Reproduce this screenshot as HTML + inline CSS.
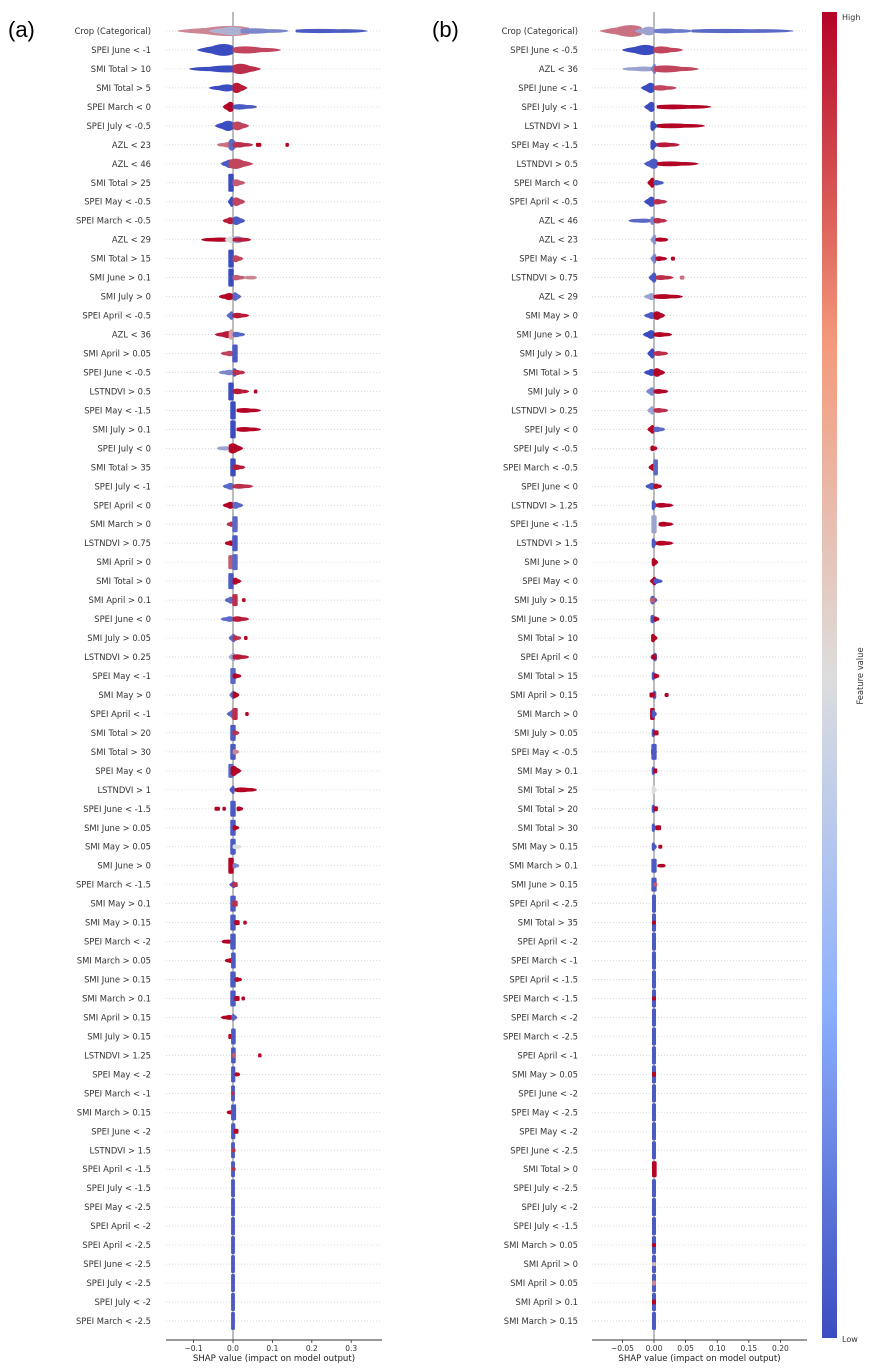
<!DOCTYPE html>
<html><head><meta charset="utf-8">
<style>
html,body{margin:0;padding:0;background:#fff;}
svg{display:block;font-family:"DejaVu Sans","Liberation Sans",sans-serif;}
</style></head>
<body>
<svg id="chart" width="873" height="1372" viewBox="0 0 873 1372" xmlns="http://www.w3.org/2000/svg">
<defs>
<linearGradient id="cw" x1="0" y1="1" x2="0" y2="0">
<stop offset="0" stop-color="#3b4cc0"/><stop offset="0.25" stop-color="#8db0fe"/>
<stop offset="0.5" stop-color="#dddddd"/><stop offset="0.75" stop-color="#f49a7b"/>
<stop offset="1" stop-color="#b40426"/></linearGradient>
</defs>
<text x="8" y="37" font-size="22" font-family="Liberation Sans, sans-serif">(a)</text>
<text x="432" y="37" font-size="22" font-family="Liberation Sans, sans-serif">(b)</text>
<g id="pa"></g>
<g id="pb"></g>
<rect x="822" y="12" width="15" height="1326" fill="url(#cw)"/>
<text x="842" y="20" font-size="8" fill="#333">High</text>
<text x="842" y="1342" font-size="8" fill="#333">Low</text>
<text x="0" y="0" font-size="8.4" fill="#333" text-anchor="middle" transform="translate(863,676) rotate(-90)">Feature value</text>
</svg>
<script>
const labelsA = ["Crop (Categorical)","SPEI June < -1","SMI Total > 10","SMI Total > 5","SPEI March < 0","SPEI July < -0.5","AZL < 23","AZL < 46","SMI Total > 25","SPEI May < -0.5","SPEI March < -0.5","AZL < 29","SMI Total > 15","SMI June > 0.1","SMI July > 0","SPEI April < -0.5","AZL < 36","SMI April > 0.05","SPEI June < -0.5","LSTNDVI > 0.5","SPEI May < -1.5","SMI July > 0.1","SPEI July < 0","SMI Total > 35","SPEI July < -1","SPEI April < 0","SMI March > 0","LSTNDVI > 0.75","SMI April > 0","SMI Total > 0","SMI April > 0.1","SPEI June < 0","SMI July > 0.05","LSTNDVI > 0.25","SPEI May < -1","SMI May > 0","SPEI April < -1","SMI Total > 20","SMI Total > 30","SPEI May < 0","LSTNDVI > 1","SPEI June < -1.5","SMI June > 0.05","SMI May > 0.05","SMI June > 0","SPEI March < -1.5","SMI May > 0.1","SMI May > 0.15","SPEI March < -2","SMI March > 0.05","SMI June > 0.15","SMI March > 0.1","SMI April > 0.15","SMI July > 0.15","LSTNDVI > 1.25","SPEI May < -2","SPEI March < -1","SMI March > 0.15","SPEI June < -2","LSTNDVI > 1.5","SPEI April < -1.5","SPEI July < -1.5","SPEI May < -2.5","SPEI April < -2","SPEI April < -2.5","SPEI June < -2.5","SPEI July < -2.5","SPEI July < -2","SPEI March < -2.5"];
const labelsB = ["Crop (Categorical)","SPEI June < -0.5","AZL < 36","SPEI June < -1","SPEI July < -1","LSTNDVI > 1","SPEI May < -1.5","LSTNDVI > 0.5","SPEI March < 0","SPEI April < -0.5","AZL < 46","AZL < 23","SPEI May < -1","LSTNDVI > 0.75","AZL < 29","SMI May > 0","SMI June > 0.1","SMI July > 0.1","SMI Total > 5","SMI July > 0","LSTNDVI > 0.25","SPEI July < 0","SPEI July < -0.5","SPEI March < -0.5","SPEI June < 0","LSTNDVI > 1.25","SPEI June < -1.5","LSTNDVI > 1.5","SMI June > 0","SPEI May < 0","SMI July > 0.15","SMI June > 0.05","SMI Total > 10","SPEI April < 0","SMI Total > 15","SMI April > 0.15","SMI March > 0","SMI July > 0.05","SPEI May < -0.5","SMI May > 0.1","SMI Total > 25","SMI Total > 20","SMI Total > 30","SMI May > 0.15","SMI March > 0.1","SMI June > 0.15","SPEI April < -2.5","SMI Total > 35","SPEI April < -2","SPEI March < -1","SPEI April < -1.5","SPEI March < -1.5","SPEI March < -2","SPEI March < -2.5","SPEI April < -1","SMI May > 0.05","SPEI June < -2","SPEI May < -2.5","SPEI May < -2","SPEI June < -2.5","SMI Total > 0","SPEI July < -2.5","SPEI July < -2","SPEI July < -1.5","SMI March > 0.05","SMI April > 0","SMI April > 0.05","SMI April > 0.1","SMI March > 0.15"];
const ticksA = [-0.1,0.0,0.1,0.2,0.3];
const tickLabelsA = ["\u22120.1","0.0","0.1","0.2","0.3"];
const ticksB = [-0.05,0,0.05,0.10,0.15,0.20];
const tickLabelsB = ["\u22120.05","0.00","0.05","0.10","0.15","0.20"];
// clusters per row: [shapLo, shapHi, featureValue(0 low..1 high), halfHeight]
const clustersA = [
[[-0.14,0.04,0.7,6],[-0.06,0.02,0.35,5],[0.02,0.14,0.2,3],[0.16,0.34,0.05,2]],
[[-0.09,0.0,0.0,7],[0.0,0.12,0.85,4]],
[[-0.11,0.02,0.0,4],[0.0,0.07,0.9,6]],
[[-0.06,0.0,0.0,4],[0.0,0.035,0.95,6]],
[[-0.025,0.0,1,6],[0.0,0.06,0.05,3]],
[[-0.045,0.0,0.0,6],[0.0,0.04,0.85,5]],
[[-0.04,0.0,0.75,3],[-0.01,0.015,0.1,7],[0.0,0.05,0.9,3],[0.06,0.07,1,1.5],[0.135,0.14,1,1.5]],
[[-0.03,0.0,0.05,5],[-0.01,0.05,0.85,6]],
[[-0.01,0.0,0.0,6],[0.0,0.03,0.8,4]],
[[-0.012,0.0,0.0,6],[0.0,0.03,0.85,5]],
[[-0.025,0.0,0.95,4],[0.0,0.03,0.05,5]],
[[-0.08,-0.01,1,2],[-0.02,0.0,0.5,4],[0.0,0.04,0.3,4],[0.0,0.045,0.95,2]],
[[-0.01,0.0,0.0,6],[0.0,0.025,0.85,4]],
[[-0.01,0.0,0.0,6],[0.0,0.03,0.8,3],[0.03,0.06,0.7,1.5]],
[[-0.035,0.0,1,4],[0.0,0.02,0.1,5]],
[[-0.015,0.0,0.1,5],[0.0,0.04,0.95,3]],
[[-0.045,0.0,0.95,4],[-0.01,0.01,0.65,6],[0.0,0.03,0.1,3]],
[[-0.03,0.0,0.85,3],[0.0,0.01,0.05,6]],
[[-0.035,0.0,0.2,3],[0.0,0.015,0.05,5],[0.0,0.03,0.9,3]],
[[-0.01,0.0,0.0,6],[0.0,0.04,0.95,3],[0.055,0.06,1,1.5]],
[[-0.005,0.005,0.0,6],[0.01,0.07,1,2.5]],
[[-0.005,0.005,0.0,6],[0.01,0.07,1,2.5]],
[[-0.04,-0.01,0.3,2],[-0.01,0.025,1,6]],
[[-0.005,0.005,0.0,6],[0.0,0.03,0.95,3]],
[[-0.025,0.0,0.1,4],[0.0,0.05,0.9,2.5]],
[[-0.025,0.0,1,4],[0.0,0.025,0.1,4]],
[[-0.015,0.0,0.9,3],[0.0,0.01,0.1,5]],
[[-0.02,0.0,1,3],[0.0,0.01,0.05,5]],
[[-0.01,0.0,0.8,4],[0.0,0.01,0.1,5]],
[[-0.01,0.0,0.05,5],[0.0,0.02,1,4]],
[[-0.02,0.0,0.1,4],[0.0,0.01,0.9,3],[0.025,0.03,1,1.5]],
[[-0.03,0.0,0.1,3],[0.0,0.04,0.95,3]],
[[-0.01,0.005,0.1,5],[0.0,0.02,0.9,3],[0.03,0.035,1,1.5]],
[[-0.01,0.005,0.3,5],[0.0,0.04,0.95,3]],
[[-0.005,0.005,0.1,5],[0.0,0.02,1,3]],
[[-0.008,0.003,0.1,5],[0.0,0.015,1,4]],
[[-0.015,0.005,0.1,5],[0.0,0.01,0.9,3],[0.033,0.038,1,1.5]],
[[-0.005,0.005,0.05,5],[0.0,0.015,0.9,3]],
[[-0.005,0.005,0.05,5],[0.0,0.015,0.7,3]],
[[-0.01,0.0,0.1,4],[-0.005,0.02,1,6]],
[[-0.008,0.003,0.05,5],[0.005,0.06,1,2.5]],
[[-0.045,-0.035,1,1.5],[-0.025,-0.02,1,1.5],[-0.005,0.005,0.05,5],[0.01,0.025,1,2.5]],
[[-0.005,0.005,0.05,5],[0.0,0.015,1,3]],
[[-0.005,0.005,0.05,5],[0.0,0.02,0.5,2.5]],
[[-0.01,0.0,1,5],[0.0,0.015,0.2,3]],
[[-0.008,0.005,0.05,4],[0.0,0.01,0.9,2]],
[[-0.005,0.005,0.05,5],[0.0,0.01,0.9,2.5]],
[[-0.005,0.005,0.05,5],[0.005,0.015,1,2],[0.028,0.033,1,1.5]],
[[-0.028,-0.005,1,2],[-0.005,0.005,0.05,5]],
[[-0.02,0.0,1,2.5],[-0.003,0.005,0.05,5]],
[[-0.005,0.005,0.05,5],[0.005,0.022,1,2.5]],
[[-0.005,0.005,0.05,5],[0.005,0.015,1,2],[0.024,0.028,1,1.5]],
[[-0.03,0.0,1,2.5],[-0.003,0.01,0.1,4]],
[[-0.01,0.0,1,2],[-0.003,0.005,0.05,5]],
[[-0.003,0.005,0.05,5],[0.0,0.005,0.8,2],[0.066,0.07,1,1.5]],
[[-0.003,0.004,0.05,5],[0.005,0.017,1,2]],
[[-0.003,0.003,0.05,5],[-0.003,0.002,0.9,1.5]],
[[-0.015,0.0,1,2],[-0.003,0.006,0.05,5]],
[[-0.003,0.004,0.05,5],[0.004,0.012,1,2]],
[[-0.003,0.003,0.05,5],[0.0,0.004,0.9,1.5]],
[[-0.003,0.003,0.05,5],[0.0,0.004,0.9,1.5]],
[[-0.003,0.003,0.05,6]],
[[-0.003,0.003,0.05,6]],
[[-0.003,0.003,0.05,6]],
[[-0.003,0.003,0.05,6]],
[[-0.003,0.003,0.05,6]],
[[-0.003,0.003,0.05,6]],
[[-0.003,0.003,0.05,6]],
[[-0.003,0.003,0.05,6]]
];
const clustersB = [
[[-0.085,-0.02,0.75,7],[-0.03,0.0,0.3,5],[0.0,0.06,0.15,2.5],[0.06,0.22,0.1,2]],
[[-0.05,0.0,0.0,6],[0.0,0.045,0.85,4]],
[[-0.05,0.0,0.3,2.5],[-0.005,0.003,0.2,6],[0.0,0.07,0.85,4]],
[[-0.02,0.0,0.0,6],[0.0,0.035,0.85,3]],
[[-0.015,0.0,0.0,6],[0.005,0.09,1,2.5]],
[[-0.005,0.005,0.0,6],[0.005,0.08,1,2.5]],
[[-0.005,0.005,0.0,6],[0.005,0.04,0.95,2.5]],
[[-0.015,0.005,0.05,6],[0.005,0.07,1,2.5]],
[[-0.01,0.0,1,6],[0.0,0.015,0.05,3]],
[[-0.015,0.0,0.0,6],[0.0,0.02,0.9,3]],
[[-0.04,-0.005,0.1,2],[-0.005,0.005,0.2,5],[0.0,0.02,0.9,3]],
[[-0.005,0.003,0.25,6],[0.003,0.022,1,2]],
[[-0.005,0.003,0.2,6],[0.003,0.02,1,2.5],[0.028,0.032,1,1.5]],
[[-0.008,0.003,0.05,6],[0.003,0.03,0.9,2.5],[0.042,0.047,0.75,1.5]],
[[-0.015,0.0,0.3,4],[0.0,0.045,1,2.5]],
[[-0.015,0.0,0.05,4],[0.0,0.017,1,5]],
[[-0.017,0.0,0.0,5],[0.0,0.028,1,2.5]],
[[-0.01,0.0,0.0,6],[0.0,0.022,0.9,2.5]],
[[-0.015,0.0,0.0,4],[0.0,0.017,1,5]],
[[-0.012,0.0,0.2,5],[0.0,0.022,1,2.5]],
[[-0.01,0.0,0.3,5],[0.0,0.022,0.9,2.5]],
[[-0.01,0.0,1,5],[0.0,0.017,0.1,3]],
[[-0.008,0.003,0.5,5],[-0.005,0.005,1,3]],
[[-0.008,0.0,1,4],[0.0,0.005,0.1,5]],
[[-0.013,0.0,0.05,4],[0.0,0.012,1,3]],
[[-0.003,0.004,0.05,6],[0.004,0.03,1,2.5]],
[[-0.003,0.003,0.3,6],[0.008,0.03,1,2.5]],
[[-0.003,0.004,0.05,6],[0.004,0.03,1,2.5]],
[[-0.003,0.006,1,5]],
[[-0.006,0.003,1,5],[0.0,0.013,0.05,3]],
[[-0.005,0.005,0.05,5],[-0.005,0.0,0.8,2]],
[[-0.005,0.005,0.05,5],[0.0,0.008,1,3]],
[[-0.004,0.005,1,5]],
[[-0.005,0.004,0.05,5],[-0.003,0.003,1,2]],
[[-0.003,0.004,0.05,5],[0.0,0.008,1,3]],
[[-0.005,0.003,0.05,5],[-0.006,0.0,1,2],[0.018,0.022,1,1.5]],
[[-0.005,0.0,1,3],[-0.003,0.004,0.05,5]],
[[-0.003,0.004,0.05,5],[0.0,0.006,1,2]],
[[-0.004,0.004,1,4],[-0.003,0.003,0.05,5]],
[[-0.003,0.004,0.05,5],[0.0,0.004,1,2]],
[[-0.003,0.004,0.5,5]],
[[-0.003,0.004,0.05,5],[0.0,0.005,1,2]],
[[-0.003,0.004,0.05,5],[0.004,0.01,1,2]],
[[-0.003,0.004,0.05,5],[0.008,0.012,1,1.5]],
[[-0.003,0.003,0.05,4],[0.006,0.018,1,1.5]],
[[-0.003,0.003,0.05,4],[0.0,0.004,0.8,1.5]],
[[-0.002,0.002,0.05,6]],
[[-0.002,0.002,0.05,6],[-0.002,0.002,1,1.5]],
[[-0.002,0.002,0.05,6]],
[[-0.002,0.002,0.05,6]],
[[-0.002,0.002,0.05,6]],
[[-0.002,0.002,0.05,6],[-0.002,0.002,1,1.5]],
[[-0.002,0.002,0.05,6]],
[[-0.002,0.002,0.05,6]],
[[-0.002,0.002,0.05,6]],
[[-0.002,0.002,0.05,6],[-0.002,0.002,1,2]],
[[-0.002,0.002,0.05,6]],
[[-0.002,0.002,0.05,6]],
[[-0.002,0.002,0.05,6]],
[[-0.002,0.002,0.05,6]],
[[-0.002,0.003,1,5]],
[[-0.002,0.002,0.05,6]],
[[-0.002,0.002,0.05,6]],
[[-0.002,0.002,0.05,6]],
[[-0.002,0.002,0.05,6],[-0.002,0.002,1,1.5]],
[[-0.002,0.002,0.05,6],[-0.002,0.002,0.6,1.5]],
[[-0.002,0.002,0.05,6],[-0.002,0.002,0.7,2]],
[[-0.002,0.002,0.05,6],[-0.002,0.002,1,2]],
[[-0.002,0.002,0.05,6]]
];

const NS = "http://www.w3.org/2000/svg";
function el(tag, attrs, parent){ const e=document.createElementNS(NS,tag); for(const k in attrs) e.setAttribute(k,attrs[k]); parent.appendChild(e); return e; }
function cw(t){
  const a=[59,76,192], m=[221,221,221], b=[180,4,38];
  const f = t<0.5? t/0.5 : (t-0.5)/0.5, p = t<0.5? a : m, q = t<0.5? m : b;
  return "rgb("+p.map((v,i)=>Math.round(v+(q[i]-v)*f)).join(",")+")";
}
const rowTop = 31, rowStep = (1321-31)/68, axisY = 1340;
function yRow(i){ return rowTop + i*rowStep; }

function drawPanel(g, labels, clusters, ticks, tickLabels, zeroX, pxPerUnit, left, right, labelRight){
  const x = v => zeroX + v*pxPerUnit;
  labels.forEach((lab,i)=>{
    const y=yRow(i);
    const gl = el("line",{x1:left,x2:right,y1:y,y2:y,stroke:"#cccccc","stroke-width":0.7,"stroke-dasharray":"1,2"},g);
    
    
    const t = el("text",{x:labelRight,y:y+3,"font-size":8.4,fill:"#333","text-anchor":"end"},g);
    t.textContent = lab;
    
    
  });
  const zl = el("line",{x1:zeroX,x2:zeroX,y1:12,y2:axisY,stroke:"#999","stroke-width":1.3},g);
  
  
  clusters.forEach((row,i)=>{
    const y=yRow(i);
    row.forEach(c=>{
      const lo=x(c[0]), hi=x(c[1]), h=c[3], col=cw(c[2]);
      const nearLo = Math.abs(c[0]) <= Math.abs(c[1]);
      const near = nearLo? lo: hi, far = nearLo? hi: lo;
      let s;
      if (Math.abs(hi-lo) < 4) {
        const cx=(lo+hi)/2, w=Math.max(3.5, hi-lo+1.5), hh = h>=3? h+3 : h+0.5;
        s = el("rect",{x:cx-w/2,y:y-hh,width:w,height:2*hh,rx:1.2,fill:col},g);
      } else {
        const p = near + (far-near)*0.25, q = near + (far-near)*0.6;
        const h2 = Math.max(1.4, h*0.45);
        const d = "M"+far+","+y+" Q"+(far+(q-far)*0.3)+","+(y-1.6)+" "+q+","+(y-h2)+" Q"+p+","+(y-h*1.1)+" "+near+","+(y-h*0.5)+" L"+near+","+(y+h*0.5)+" Q"+p+","+(y+h*1.1)+" "+q+","+(y+h2)+" Q"+(far+(q-far)*0.3)+","+(y+1.6)+" "+far+","+y+" Z";
        s = el("path",{d:d,fill:col,stroke:col,"stroke-width":0.8,"stroke-linejoin":"round"},g);
      }
      
      
    });
  });
  const ax = el("line",{x1:left,x2:right,y1:axisY,y2:axisY,stroke:"#333","stroke-width":0.9},g);
  
  
  ticks.forEach((v,i)=>{
    const tk = el("line",{x1:x(v),x2:x(v),y1:axisY,y2:axisY+3,stroke:"#333","stroke-width":0.8},g);
    
    
    const tl = el("text",{x:x(v),y:axisY+11,"font-size":7.5,fill:"#333","text-anchor":"middle"},g);
    tl.textContent = tickLabels[i];
    
    
  });
  const xt = el("text",{x:(left+right)/2,y:axisY+21,"font-size":8.6,fill:"#222","text-anchor":"middle"},g);
  xt.textContent = "SHAP value (impact on model output)";
  
  
}
drawPanel(document.getElementById("pa"), labelsA, clustersA, ticksA, tickLabelsA, 233, 394, 166, 382, 151);
drawPanel(document.getElementById("pb"), labelsB, clustersB, ticksB, tickLabelsB, 654, 632, 592, 807, 578);
</script>
</body></html>
